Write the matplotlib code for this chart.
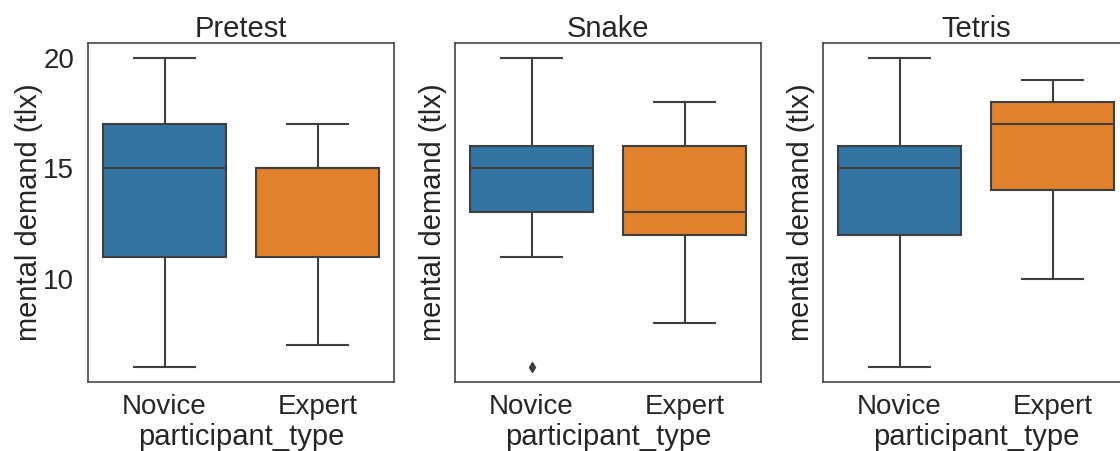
import matplotlib
matplotlib.use("Agg")
import matplotlib.pyplot as plt

plt.rcParams['font.family'] = ['Liberation Sans', 'DejaVu Sans']

panels = ["Pretest", "Snake", "Tetris"]
categories = ["Novice", "Expert"]

# per panel: [Novice, Expert]
whislo = {"Pretest": [6, 7], "Snake": [11, 8], "Tetris": [6, 10]}
q1 = {"Pretest": [11, 11], "Snake": [13, 12], "Tetris": [12, 14]}
med = {"Pretest": [15, 15], "Snake": [15, 13], "Tetris": [15, 17]}
q3 = {"Pretest": [17, 15], "Snake": [16, 16], "Tetris": [16, 18]}
whishi = {"Pretest": [20, 17], "Snake": [20, 18], "Tetris": [20, 19]}
fliers = {"Pretest": [[], []], "Snake": [[6], []], "Tetris": [[], []]}

yticks = [10, 15, 20]
colors = ["#3274a1", "#e1812c"]
line_color = "#3f3f3f"

W, H = 1120, 451
fig = plt.figure(figsize=(W / 100, H / 100), dpi=100)

lefts = [88, 455, 823]
axw = 306
top, bottom = 43, 382

for i, (name, left) in enumerate(zip(panels, lefts)):
    ax = fig.add_axes([left / W, (H - bottom) / H, axw / W, (bottom - top) / H])
    stats = []
    for j, cat in enumerate(categories):
        stats.append(dict(whislo=whislo[name][j], q1=q1[name][j], med=med[name][j],
                          q3=q3[name][j], whishi=whishi[name][j],
                          fliers=fliers[name][j], label=cat))
    bp = ax.bxp(stats, positions=range(len(categories)), widths=0.8,
                patch_artist=True, showfliers=True,
                boxprops=dict(edgecolor=line_color, linewidth=1.5),
                medianprops=dict(color=line_color, linewidth=1.5),
                whiskerprops=dict(color=line_color, linewidth=1.5),
                capprops=dict(color=line_color, linewidth=1.5),
                flierprops=dict(marker='d', markerfacecolor=line_color,
                                markeredgecolor=line_color, markersize=5))
    for patch, c in zip(bp['boxes'], colors):
        patch.set_facecolor(c)
    ax.set_xlim(-0.5, 1.5)
    ax.set_ylim(5.3, 20.7)
    ax.set_yticks(yticks)
    if i != 0:
        ax.set_yticklabels([])
    ax.tick_params(axis='x', length=0, labelsize=20, colors="#262626", pad=9)
    ax.tick_params(axis='y', length=0, labelsize=20, colors="#262626", pad=10)
    ax.set_xlabel("participant_type", fontsize=21, color="#262626", labelpad=2)
    ax.set_ylabel("mental demand (tlx)", fontsize=21, color="#262626",
                  labelpad=0 if i == 0 else -4)
    ax.set_title(name, fontsize=21, color="#262626", pad=3)
    for s in ax.spines.values():
        s.set_color("#4d4d4d")
        s.set_linewidth(1.25)

fig.savefig("out.png", dpi=100)
